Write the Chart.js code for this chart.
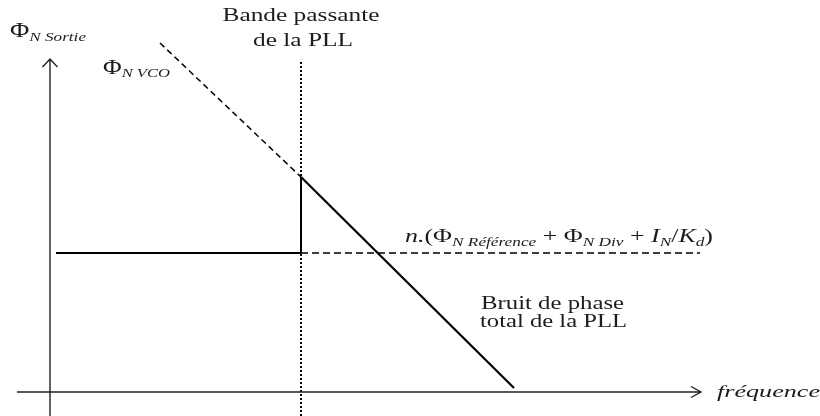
<!DOCTYPE html>
<html><head><meta charset="utf-8">
<script src="https://cdn.jsdelivr.net/npm/chart.js@4"></script>
<style>html,body{margin:0;padding:0;background:#fff}#wrap{width:820px;height:416px;position:relative}</style>
</head><body><div id="wrap"><canvas id="c"></canvas></div>
<script>
// Data (arbitrary units: frequency vs phase noise, origin at the axes crossing)
const bandwidth = 251;             // PLL loop bandwidth
const floorFreqs = [6, 251];       // in-band noise floor (solid)
const floorLevels = [139, 139];
const floorOutFreqs = [251, 650];  // noise floor continuation (dashed)
const floorOutLevels = [139, 139];
const vcoFreqs = [110, 251];       // VCO noise inside the band (dashed)
const vcoLevels = [349, 215];
const stepFreqs = [251, 251];      // jump at the bandwidth (solid)
const stepLevels = [139, 215];
const totalFreqs = [251, 464];     // total noise above bandwidth (solid)
const totalLevels = [215, 4];
const bwMarkerLevels = [-24, 330]; // dotted bandwidth marker

const pts = (xs, ys) => xs.map((x, i) => ({x, y: ys[i]}));
const ds = (data, width, dash, color) => ({
  data, showLine: true, borderColor: color || '#000', borderWidth: width,
  borderDash: dash || [], pointRadius: 0, fill: false, tension: 0
});

const SERIF = '"Liberation Serif", "Times New Roman", serif';
const ink = '#1c1c1c';

function drawRich(ctx, x, y, segs, targetW, align) {
  ctx.save();
  let nat = 0;
  for (const s of segs) { ctx.font = s.font; nat += ctx.measureText(s.t).width; }
  const sx = targetW / nat;
  const x0 = align === 'center' ? x - targetW / 2 : x;
  ctx.translate(x0, y);
  ctx.scale(sx, 1);
  ctx.fillStyle = ink;
  ctx.textBaseline = 'alphabetic';
  let cx = 0;
  for (const s of segs) {
    ctx.font = s.font;
    ctx.fillText(s.t, cx, s.dy || 0);
    cx += ctx.measureText(s.t).width;
  }
  ctx.restore();
}

const decor = {
  id: 'decor',
  afterDatasetsDraw(chart, args, o) {
    const ctx = chart.ctx, xs = chart.scales.x, ys = chart.scales.y;
    const X = v => xs.getPixelForValue(v), Y = v => ys.getPixelForValue(v);
    ctx.save();
    ctx.strokeStyle = '#222';
    ctx.lineWidth = 1.4;
    // y axis
    ctx.beginPath();
    ctx.moveTo(X(0), Y(ys.min)); ctx.lineTo(X(0), Y(o.yTop));
    ctx.moveTo(X(0) - 7.5, Y(o.yTop) + 8); ctx.lineTo(X(0), Y(o.yTop)); ctx.lineTo(X(0) + 7.5, Y(o.yTop) + 8);
    // x axis
    ctx.moveTo(X(o.xFrom), Y(0)); ctx.lineTo(X(o.xTo), Y(0));
    ctx.moveTo(X(o.xTo) - 10, Y(0) - 5.5); ctx.lineTo(X(o.xTo), Y(0)); ctx.lineTo(X(o.xTo) - 10, Y(0) + 5.5);
    ctx.stroke();
    ctx.restore();

    const up = s => s + 'px ' + SERIF;
    const it = s => 'italic ' + s + 'px ' + SERIF;
    // axis labels
    drawRich(ctx, 10, 37, [{t: 'Φ', font: up(20)}, {t: 'N Sortie', font: it(13), dy: 4}], 76);
    drawRich(ctx, 103, 74, [{t: 'Φ', font: up(20)}, {t: 'N VCO', font: it(13), dy: 3}], 67);
    drawRich(ctx, 717, 397, [{t: 'fréquence', font: it(17)}], 103);
    // bandwidth label
    const bx = X(bandwidth);
    drawRich(ctx, bx, 21, [{t: 'Bande passante', font: up(18)}], 157, 'center');
    drawRich(ctx, bx + 2, 46, [{t: 'de la PLL', font: up(18)}], 100, 'center');
    // total noise label
    drawRich(ctx, 481, 309, [{t: 'Bruit de phase', font: up(18)}], 143);
    drawRich(ctx, 480, 327, [{t: 'total de la PLL', font: up(18)}], 147);
    // floor formula
    drawRich(ctx, 405, 242, [
      {t: 'n.', font: it(18)}, {t: '(', font: up(18)}, {t: 'Φ', font: up(18)},
      {t: 'N Référence', font: it(12), dy: 4}, {t: ' + ', font: up(18)},
      {t: 'Φ', font: up(18)}, {t: 'N Div', font: it(12), dy: 4}, {t: ' + ', font: up(18)},
      {t: 'I', font: it(18)}, {t: 'N', font: it(12), dy: 4}, {t: '/', font: up(18)},
      {t: 'K', font: it(18)}, {t: 'd', font: it(12), dy: 4}, {t: ')', font: up(18)}
    ], 308);
  }
};

new Chart(document.getElementById('c'), {
  type: 'scatter',
  data: {
    datasets: [
      ds(pts([bandwidth, bandwidth], bwMarkerLevels), 2, [2, 2]),
      ds(pts(vcoFreqs, vcoLevels), 1.5, [6, 4]),
      ds(pts(floorOutFreqs, floorOutLevels), 1.5, [7, 4]),
      ds(pts(floorFreqs, floorLevels), 2),
      ds(pts(stepFreqs, stepLevels), 2),
      ds(pts(totalFreqs, totalLevels), 2.2)
    ]
  },
  options: {
    responsive: true, maintainAspectRatio: false, animation: false,
    layout: {padding: 0},
    events: [],
    scales: {
      x: {type: 'linear', min: -50, max: 770, display: false},
      y: {type: 'linear', min: -24, max: 392, display: false}
    },
    plugins: {
      legend: {display: false}, tooltip: {enabled: false},
      decor: {xFrom: -33, xTo: 651, yTop: 333}
    }
  },
  plugins: [decor]
});
</script></body></html>
